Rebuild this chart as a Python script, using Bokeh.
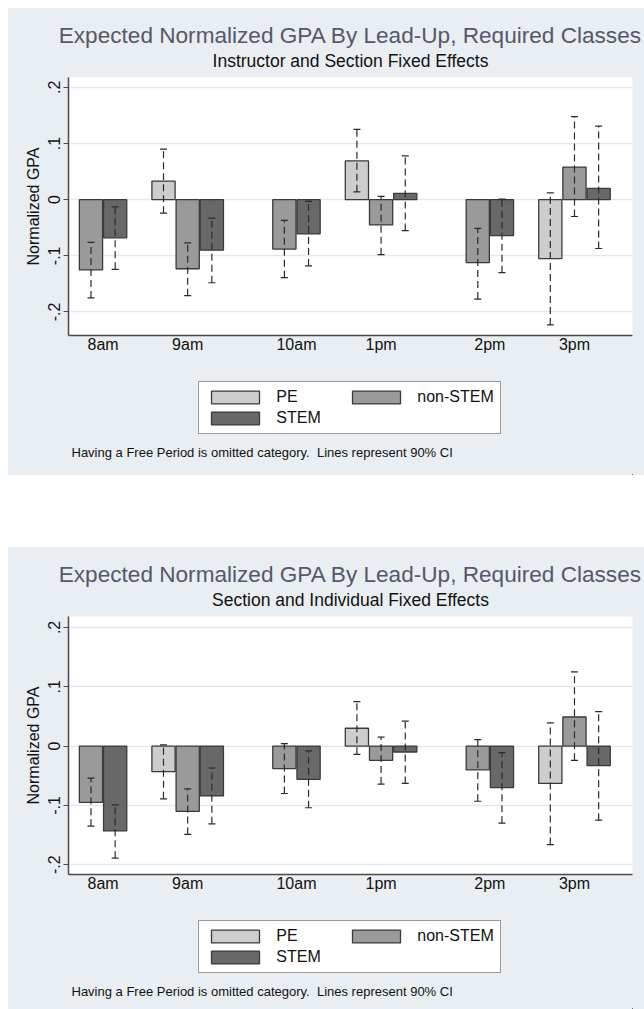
import math
from bokeh.plotting import figure
from bokeh.models import (Range1d, FixedTicker, Legend, LegendItem, Label, Title,
                          Whisker, TeeHead, ColumnDataSource)
from bokeh.layouts import column
from bokeh.embed import file_html
from bokeh.resources import INLINE

NaN = float("nan")

# ---------------- data ----------------
times = ["8am", "9am", "10am", "1pm", "2pm", "3pm"]
series = ["PE", "non-STEM", "STEM"]

title_text = "Expected Normalized GPA By Lead-Up, Required Classes"
subtitle_1 = "Instructor and Section Fixed Effects"
subtitle_2 = "Section and Individual Fixed Effects"
note_text = "Having a Free Period is omitted category.\u00a0 Lines represent 90% CI"
y_label = "Normalized GPA"

# Panel 1: Instructor and Section Fixed Effects
p1_pe = [NaN, 0.033, NaN, 0.069, NaN, -0.105]
p1_pe_lo = [NaN, -0.024, NaN, 0.014, NaN, -0.223]
p1_pe_hi = [NaN, 0.090, NaN, 0.125, NaN, 0.012]
p1_non = [-0.125, -0.123, -0.088, -0.045, -0.112, 0.058]
p1_non_lo = [-0.175, -0.171, -0.139, -0.098, -0.177, -0.030]
p1_non_hi = [-0.076, -0.077, -0.037, 0.006, -0.051, 0.148]
p1_stem = [-0.068, -0.090, -0.061, 0.011, -0.064, 0.020]
p1_stem_lo = [-0.124, -0.148, -0.118, -0.055, -0.130, -0.087]
p1_stem_hi = [-0.013, -0.033, -0.003, 0.078, 0.001, 0.131]

# Panel 2: Section and Individual Fixed Effects
p2_pe = [NaN, -0.043, NaN, 0.030, NaN, -0.063]
p2_pe_lo = [NaN, -0.089, NaN, -0.014, NaN, -0.166]
p2_pe_hi = [NaN, 0.002, NaN, 0.075, NaN, 0.039]
p2_non = [-0.095, -0.110, -0.038, -0.024, -0.040, 0.049]
p2_non_lo = [-0.135, -0.149, -0.080, -0.064, -0.093, -0.024]
p2_non_hi = [-0.054, -0.072, 0.004, 0.015, 0.011, 0.125]
p2_stem = [-0.143, -0.084, -0.056, -0.010, -0.070, -0.033]
p2_stem_lo = [-0.189, -0.131, -0.104, -0.063, -0.130, -0.125]
p2_stem_hi = [-0.099, -0.037, -0.008, 0.042, -0.011, 0.058]

y_ticks = [-0.2, -0.1, 0.0, 0.1, 0.2]
y_tick_labels = ["-.2", "-.1", "0", ".1", ".2"]

# ---------------- style ----------------
FONT = "Liberation Sans"
BG = "#e9eef2"
GRID = "#e2e9ee"
AXIS = "#4a4a4a"
TITLE_COLOR = "#57576a"
FILLS = ["#cdcdcd", "#9a9a9a", "#686868"]
OUTLINE = "#3a3a3a"
WHISKER = "#2a2a2a"
TEXT = "#111111"

W = 636
SLOTS = 4          # bar slots per time group (3 bars + gap)
BAR_W = 0.96


def isnum(v):
    return v is not None and not (isinstance(v, float) and math.isnan(v))


def sources(vals, los, his):
    out = []
    for j in range(len(series)):
        keep = [i for i in range(len(times)) if isnum(vals[j][i])]
        out.append(ColumnDataSource(dict(
            x=[SLOTS * i + j for i in keep],
            top=[vals[j][i] for i in keep],
            lo=[los[j][i] for i in keep],
            hi=[his[j][i] for i in keep])))
    return out


def main(subtitle, vals, srcs, y_range):
    p = figure(width=W, height=357, output_backend="svg",
               toolbar_location=None, title=None,
               x_range=Range1d(0.07, 23.4), y_range=y_range,
               min_border_left=60, min_border_right=12,
               min_border_top=69, min_border_bottom=30)
    p.border_fill_color = BG
    p.background_fill_color = "white"
    p.outline_line_color = None

    # tick positions: centre of the bars present in each group
    label_pos = []
    for i in range(len(times)):
        present = [SLOTS * i + j for j in range(len(series)) if isnum(vals[j][i])]
        label_pos.append(sum(present) / len(present))

    for j, src in enumerate(srcs):
        p.vbar(x="x", top="top", bottom=0, width=BAR_W, source=src,
               fill_color=FILLS[j], line_color=OUTLINE, line_width=1.3)
        p.add_layout(Whisker(
            source=src, base="x", lower="lo", upper="hi",
            line_color=WHISKER, line_width=1.2, line_dash="7 4",
            level="annotation",
            upper_head=TeeHead(size=7, line_color=WHISKER, line_width=1.2),
            lower_head=TeeHead(size=7, line_color=WHISKER, line_width=1.2)))

    xa = p.xaxis[0]
    xa.ticker = FixedTicker(ticks=label_pos)
    xa.major_label_overrides = {pos: t for pos, t in zip(label_pos, times)}
    xa.major_tick_line_color = None
    xa.major_tick_out = 0
    xa.minor_tick_line_color = None
    xa.axis_line_color = AXIS
    xa.axis_line_width = 1.5
    xa.major_label_text_font = FONT
    xa.major_label_text_font_size = "16px"
    xa.major_label_text_color = TEXT
    xa.major_label_standoff = 0

    ya = p.yaxis[0]
    ya.ticker = FixedTicker(ticks=y_ticks)
    ya.major_label_overrides = {t: l for t, l in zip(y_ticks, y_tick_labels)}
    ya.major_label_orientation = "vertical"
    ya.major_tick_out = 5
    ya.major_tick_in = 0
    ya.major_tick_line_color = AXIS
    ya.major_tick_line_width = 1.2
    ya.minor_tick_line_color = None
    ya.axis_line_color = AXIS
    ya.axis_line_width = 1.5
    ya.major_label_text_font = FONT
    ya.major_label_text_font_size = "16px"
    ya.major_label_text_color = TEXT
    ya.major_label_standoff = 3
    ya.axis_label = y_label
    ya.axis_label_text_font = FONT
    ya.axis_label_text_font_size = "16px"
    ya.axis_label_text_font_style = "normal"
    ya.axis_label_text_color = TEXT
    ya.axis_label_standoff = 4

    p.xgrid.grid_line_color = None
    p.ygrid.ticker = FixedTicker(ticks=y_ticks)
    p.ygrid.grid_line_color = GRID
    p.ygrid.grid_line_width = 1.5

    # titles above the frame (first added sits nearest the frame)
    p.add_layout(Title(text=subtitle, align="center", standoff=13,
                       vertical_align="bottom",
                       text_font=FONT, text_font_size="17.5px",
                       text_font_style="normal", text_color=TEXT), "above")
    p.add_layout(Title(text=title_text, align="center", standoff=-11,
                       vertical_align="bottom",
                       text_font=FONT, text_font_size="22.6px",
                       text_font_style="normal", text_color=TITLE_COLOR), "above")
    return p


def footer(srcs, height):
    # ranges kept away from the data so only the legend keys show
    p = figure(width=W, height=height, output_backend="svg",
               toolbar_location=None, title=None,
               x_axis_type=None, y_axis_type=None,
               x_range=Range1d(-3, -2), y_range=Range1d(5, 6),
               min_border=0)
    p.border_fill_color = BG
    p.background_fill_color = BG
    p.outline_line_color = None
    rs = [p.vbar(x="x", top="top", bottom=0, width=BAR_W, source=src,
                 fill_color=FILLS[j], line_color=OUTLINE, line_width=1.3)
          for j, src in enumerate(srcs)]
    legend = Legend(items=[LegendItem(label=s, renderers=[r])
                           for s, r in zip(series, rs)],
                    location=(130.3, height - 69.3), orientation="horizontal",
                    ncols=2, glyph_width=60, glyph_height=16, label_standoff=11,
                    label_width=67, label_height=16, spacing=3, padding=6,
                    margin=0, border_line_color="#333333", border_line_width=1,
                    background_fill_color="white", background_fill_alpha=1,
                    label_text_font=FONT, label_text_font_size="16px",
                    label_text_color=TEXT)
    p.add_layout(legend)
    p.add_layout(Label(x=3, y=height - 87.3, x_units="screen", y_units="screen",
                       text=note_text, text_align="left",
                       text_baseline="alphabetic", text_font=FONT,
                       text_font_size="13px", text_color=TEXT))
    return p


s1 = sources([p1_pe, p1_non, p1_stem], [p1_pe_lo, p1_non_lo, p1_stem_lo],
             [p1_pe_hi, p1_non_hi, p1_stem_hi])
s2 = sources([p2_pe, p2_non, p2_stem], [p2_pe_lo, p2_non_lo, p2_stem_lo],
             [p2_pe_hi, p2_non_hi, p2_stem_hi])

top = column(
    main(subtitle_1, [p1_pe, p1_non, p1_stem], s1, Range1d(-0.2419, 0.2175)),
    footer(s1, 110),
    spacing=0, margin=(8, 0, 0, 8), styles={"background-color": BG})

bottom = column(
    main(subtitle_2, [p2_pe, p2_non, p2_stem], s2, Range1d(-0.2165, 0.2184)),
    footer(s2, 105),
    spacing=0, margin=(0, 0, 0, 8), styles={"background-color": BG})

layout = column(top, bottom, spacing=72)
open("out.html", "w").write(file_html(layout, INLINE))
